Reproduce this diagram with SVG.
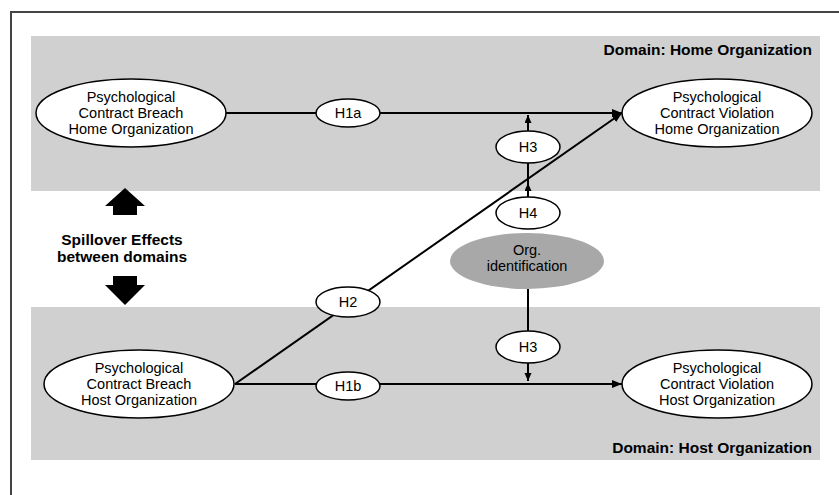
<svg xmlns="http://www.w3.org/2000/svg" width="839" height="495" viewBox="0 0 839 495">
<style>
.node{fill:#fff;stroke:#000;stroke-width:1.5}
.t{font-family:"Liberation Sans",Arial,sans-serif;font-size:14.5px;fill:#000;text-anchor:middle}
.b{font-family:"Liberation Sans",Arial,sans-serif;font-size:15.5px;font-weight:bold;fill:#000}
.c{stroke:#000;stroke-width:2;fill:none}
</style>
<defs>
<marker id="ah" markerUnits="userSpaceOnUse" markerWidth="12" markerHeight="10" refX="10" refY="4" orient="auto">
<path d="M0,0 L10,4 L0,8 Z" fill="#000"/>
</marker>
<marker id="as" markerUnits="userSpaceOnUse" markerWidth="10" markerHeight="8" refX="8" refY="3.5" orient="auto">
<path d="M0,0 L8,3.5 L0,7 Z" fill="#000"/>
</marker>
</defs>
<rect x="0" y="0" width="839" height="495" fill="#fff"/>
<rect x="11" y="12" width="840" height="500" fill="none" stroke="#444" stroke-width="2"/>
<g id="domain-home">
<rect x="31" y="36" width="789" height="155" fill="#d0d0d0"/>
<text class="b" x="812" y="55" text-anchor="end">Domain: Home Organization</text>
</g>
<g id="domain-host">
<rect x="31" y="307" width="789" height="153" fill="#d0d0d0"/>
<text class="b" x="812" y="453" text-anchor="end">Domain: Host Organization</text>
</g>
<g id="spillover">
<polygon points="125,188 145,206 137,206 137,215 113,215 113,206 105,206" fill="#000"/>
<polygon points="113,276 137,276 137,285 145,285 125,305 105,285 113,285" fill="#000"/>
<text class="b" x="122" y="245" text-anchor="middle">Spillover Effects</text>
<text class="b" x="122" y="262" text-anchor="middle">between domains</text>
</g>
<g id="connectors">
<line class="c" x1="226" y1="113" x2="622" y2="113" marker-end="url(#ah)"/>
<line class="c" x1="235" y1="384" x2="622" y2="384" marker-end="url(#ah)"/>
<line class="c" x1="235" y1="384" x2="622" y2="113" marker-end="url(#ah)"/>
<line class="c" x1="528" y1="131" x2="528" y2="115" marker-end="url(#as)"/>
<line class="c" x1="528" y1="163" x2="528" y2="198"/>
<line class="c" x1="528" y1="197" x2="528" y2="183" marker-end="url(#as)"/>
<line class="c" x1="528" y1="289" x2="528" y2="331"/>
<line class="c" x1="528" y1="363" x2="528" y2="381" marker-end="url(#as)"/>
</g>
<g id="breach-home">
<ellipse class="node" cx="131" cy="113" rx="95" ry="34"/>
<text class="t" x="131" y="102">Psychological</text>
<text class="t" x="131" y="118">Contract Breach</text>
<text class="t" x="131" y="134">Home Organization</text>
</g>
<g id="violation-home">
<ellipse class="node" cx="717" cy="113" rx="95" ry="34"/>
<text class="t" x="717" y="102">Psychological</text>
<text class="t" x="717" y="118">Contract Violation</text>
<text class="t" x="717" y="134">Home Organization</text>
</g>
<g id="breach-host">
<ellipse class="node" cx="139" cy="384" rx="95" ry="34"/>
<text class="t" x="139" y="373">Psychological</text>
<text class="t" x="139" y="389">Contract Breach</text>
<text class="t" x="139" y="405">Host Organization</text>
</g>
<g id="violation-host">
<ellipse class="node" cx="717" cy="384" rx="95" ry="34"/>
<text class="t" x="717" y="373">Psychological</text>
<text class="t" x="717" y="389">Contract Violation</text>
<text class="t" x="717" y="405">Host Organization</text>
</g>
<g id="h1a">
<ellipse class="node" cx="348" cy="113" rx="32" ry="14"/>
<text class="t" x="348" y="118">H1a</text>
</g>
<g id="h1b">
<ellipse class="node" cx="348" cy="386" rx="32" ry="14"/>
<text class="t" x="348" y="391">H1b</text>
</g>
<g id="h2">
<ellipse class="node" cx="348" cy="302" rx="32" ry="15"/>
<text class="t" x="348" y="307">H2</text>
</g>
<g id="h3-home">
<ellipse class="node" cx="528" cy="147" rx="32" ry="16"/>
<text class="t" x="528" y="152">H3</text>
</g>
<g id="h4">
<ellipse class="node" cx="528" cy="213" rx="32" ry="16"/>
<text class="t" x="528" y="218">H4</text>
</g>
<g id="org-identification">
<ellipse cx="527" cy="261" rx="77" ry="28" fill="#a8a8a8"/>
<text class="t" x="527" y="255">Org.</text>
<text class="t" x="527" y="271">identification</text>
</g>
<g id="h3-host">
<ellipse class="node" cx="528" cy="347" rx="32" ry="16"/>
<text class="t" x="528" y="352">H3</text>
</g>
</svg>
